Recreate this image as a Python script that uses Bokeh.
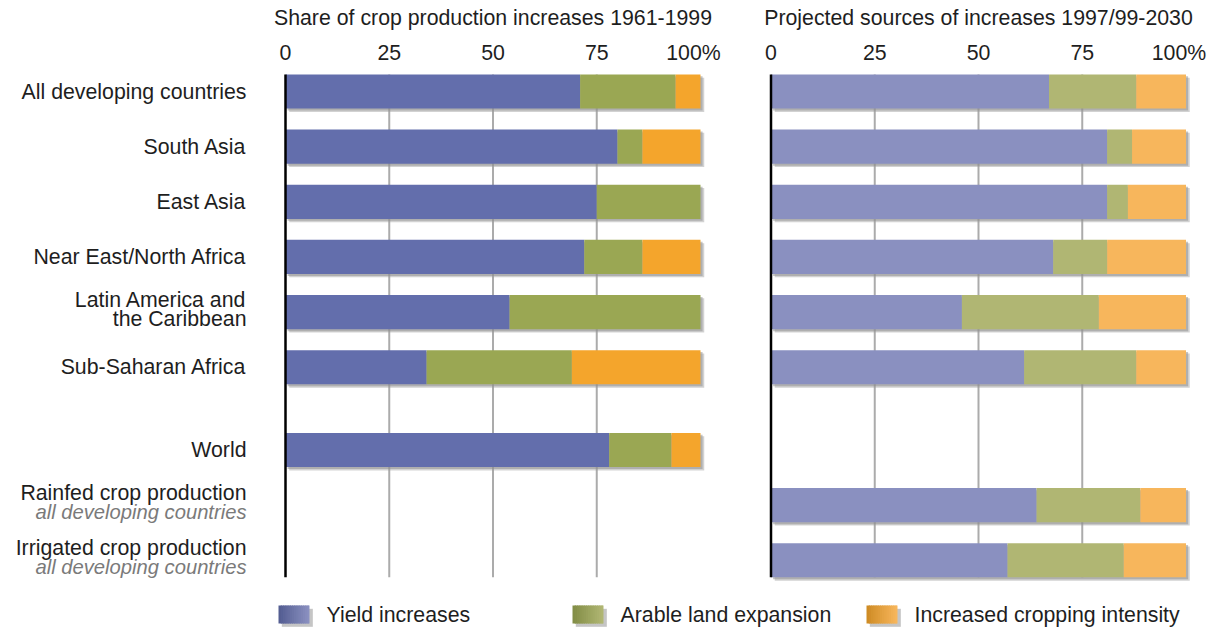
import numpy as np
from bokeh.plotting import figure
from bokeh.models import Range1d, ColumnDataSource
from bokeh.transform import dodge
from bokeh.core.properties import value
from bokeh.embed import file_html
from bokeh.resources import INLINE

# ---------------- data ----------------
categories = ["All developing countries", "South Asia", "East Asia",
              "Near East/North Africa", "Latin America and\nthe Caribbean",
              "Sub-Saharan Africa", "World", "Rainfed crop production",
              "Irrigated crop production"]
subtitles = ["", "", "", "", "", "", "",
             "all developing countries", "all developing countries"]

hist_yield = [71, 80, 75, 72, 54, 34, 78, None, None]
hist_land = [23, 6, 25, 14, 46, 35, 15, None, None]
hist_intens = [6, 14, 0, 14, 0, 31, 7, None, None]

proj_yield = [67, 81, 81, 68, 46, 61, None, 64, 57]
proj_land = [21, 6, 5, 13, 33, 27, None, 25, 28]
proj_intens = [12, 13, 14, 19, 21, 12, None, 11, 15]

series_names = ["Yield increases", "Arable land expansion", "Increased cropping intensity"]
hist_colors = ["#636EAC", "#9AA753", "#F4A52C"]
proj_colors = ["#8A90C0", "#B0B673", "#F7B65C"]

ticks = [0, 25, 50, 75, 100]
tick_labels = ["0", "25", "50", "75", "100%"]
hist_title = "Share of crop production increases 1961-1999"
proj_title = "Projected sources of increases 1997/99-2030"

# ---------------- layout ----------------
W, H = 1213, 630
PX_UNIT = 4.15          # pixels per percentage point
LEFT0 = 285.0           # x pixel of 0% in the left panel
RIGHT0 = 770.5          # x pixel of 0% in the right panel
ROW0 = 91.0             # y pixel of first row centre
ROW_PX = 55.15          # pixels per row
BAR_H = 0.62
GAP_AFTER = 5           # extra half row after this index
FONT = "Liberation Sans"
FS = "21.3px"
FS_SUB = "20.2px"
TXT = "#1e1e1e"

n = len(categories)
pos = [i + (0.5 if i > GAP_AFTER else 0.0) for i in range(n)]
top = pos[0] - BAR_H / 2
bottom = pos[-1] + BAR_H / 2


def row_units(px):
    return (px - ROW0) / ROW_PX


p = figure(width=W, height=H,
           x_range=Range1d(-LEFT0 / PX_UNIT, (W - LEFT0) / PX_UNIT),
           y_range=Range1d(row_units(H), row_units(0)),
           output_backend="svg", toolbar_location=None,
           x_axis_type=None, y_axis_type=None, min_border=0,
           outline_line_color=None, background_fill_color="white",
           border_fill_color="white")
p.extra_x_ranges = {"proj": Range1d(-RIGHT0 / PX_UNIT, (W - RIGHT0) / PX_UNIT)}

TICK_Y = row_units(52)
TITLE_Y = row_units(17)


def draw_panel(vals, colors, title, range_name):
    kw = {} if range_name is None else {"x_range_name": range_name}
    rows = [i for i in range(n) if vals[0][i] is not None]
    ys = [pos[i] for i in rows]
    # grid lines
    grid_t = ticks[1:-1]
    p.segment(x0=grid_t, x1=grid_t, y0=[top] * len(grid_t), y1=[bottom] * len(grid_t),
              line_color="#ababab", line_width=2, **kw)
    # shadows
    totals = [sum(v[i] for v in vals) for i in rows]
    ssrc = ColumnDataSource(dict(y=ys, left=[0] * len(rows), right=totals))
    p.hbar(y=dodge("y", 0.06), left=dodge("left", 0.9), right=dodge("right", 0.9),
           height=BAR_H, source=ssrc, fill_color="#9c9c9c", fill_alpha=0.45,
           line_color=None, **kw)
    p.hbar(y=dodge("y", 0.035), left=dodge("left", 0.5), right=dodge("right", 0.5),
           height=BAR_H, source=ssrc, fill_color="#8c8c8c", fill_alpha=0.5,
           line_color=None, **kw)
    # stacked bars
    cum = np.zeros(len(rows))
    for k, v in enumerate(vals):
        seg = np.array([v[i] for i in rows], dtype=float)
        src = ColumnDataSource(dict(y=ys, left=cum, right=cum + seg))
        p.hbar(y="y", left="left", right="right", height=BAR_H, source=src,
               fill_color=colors[k], line_color=None, **kw)
        cum = cum + seg
    # zero axis line
    p.segment(x0=[0], x1=[0], y0=[top], y1=[bottom], line_color="black",
              line_width=2.5, **kw)
    # tick labels
    p.text(x=ticks[:-1], y=[TICK_Y] * (len(ticks) - 1), text=tick_labels[:-1],
           text_align="center", text_baseline="middle", text_font=value(FONT),
           text_font_size=FS, text_color=TXT, **kw)
    p.text(x=[ticks[-1]], y=[TICK_Y], text=[tick_labels[-1]], x_offset=-7,
           text_align="center", text_baseline="middle", text_font=value(FONT),
           text_font_size=FS, text_color=TXT, **kw)
    # title
    p.text(x=[(ticks[0] + ticks[-1]) / 2], y=[TITLE_Y], text=[title],
           text_align="center", text_baseline="middle", text_font=value(FONT),
           text_font_size=FS, text_color=TXT, **kw)


draw_panel([hist_yield, hist_land, hist_intens], hist_colors, hist_title, None)
draw_panel([proj_yield, proj_land, proj_intens], proj_colors, proj_title, "proj")

# ---------------- category labels ----------------
LINE_PX = 19.0
SHIFT_PX = -3.0
main_x, main_y, main_t = [], [], []
sub_x, sub_y, sub_t = [], [], []
for i, cat in enumerate(categories):
    lines = cat.split("\n")
    kinds = ["main"] * len(lines)
    if subtitles[i]:
        lines.append(subtitles[i])
        kinds.append("sub")
    k = len(lines)
    for j, (ln, kd) in enumerate(zip(lines, kinds)):
        yy = pos[i] + ((j - (k - 1) / 2) * LINE_PX + (SHIFT_PX if k > 1 else 0)) / ROW_PX
        if kd == "main":
            main_x.append(0); main_y.append(yy); main_t.append(ln)
        else:
            sub_x.append(0); sub_y.append(yy); sub_t.append(ln)

p.text(x=main_x, y=main_y, text=main_t, x_offset=-39, text_align="right",
       text_baseline="middle", text_font=value(FONT), text_font_size=FS,
       text_color=TXT)
p.text(x=sub_x, y=sub_y, text=sub_t, x_offset=-39, text_align="right",
       text_baseline="middle", text_font=value(FONT), text_font_size=FS_SUB,
       text_font_style="italic", text_color="#7a7a7a")

# ---------------- legend ----------------
LEG_Y = row_units(614)
SQ_H = 18 / ROW_PX
SQ_W = 31 / PX_UNIT
LEG_X0 = (278 - LEFT0) / PX_UNIT
LEG_STRIDE = 294 / PX_UNIT
TEXT_GAP = 48 / PX_UNIT
N_STRIPS = 14


def hex_to_rgb(h):
    h = h.lstrip("#")
    return np.array([int(h[i:i + 2], 16) for i in (0, 2, 4)], dtype=float)


for k, name in enumerate(series_names):
    x0 = LEG_X0 + k * LEG_STRIDE
    # shadow
    p.quad(left=[x0 + 0.8], right=[x0 + SQ_W + 0.8], top=[LEG_Y - SQ_H / 2 + 0.06],
           bottom=[LEG_Y + SQ_H / 2 + 0.06], fill_color="#8c8c8c", fill_alpha=0.5,
           line_color=None)
    c0 = hex_to_rgb(hist_colors[k]) * 0.85
    c1 = hex_to_rgb(proj_colors[k])
    lefts, rights, cols = [], [], []
    for s in range(N_STRIPS):
        t = s / (N_STRIPS - 1)
        c = c0 + (c1 - c0) * t
        cols.append("#%02x%02x%02x" % tuple(int(round(v)) for v in c))
        lefts.append(x0 + SQ_W * s / N_STRIPS)
        rights.append(x0 + SQ_W * (s + 1) / N_STRIPS + (0.35 if s < N_STRIPS - 1 else 0))
    p.quad(left=lefts, right=rights, top=[LEG_Y - SQ_H / 2] * N_STRIPS,
           bottom=[LEG_Y + SQ_H / 2] * N_STRIPS, fill_color=cols, line_color=None)
    p.text(x=[x0 + TEXT_GAP], y=[LEG_Y], text=[name], text_align="left",
           text_baseline="middle", text_font=value(FONT), text_font_size=FS,
           text_color=TXT)

open("out.html", "w").write(file_html(p, INLINE))
